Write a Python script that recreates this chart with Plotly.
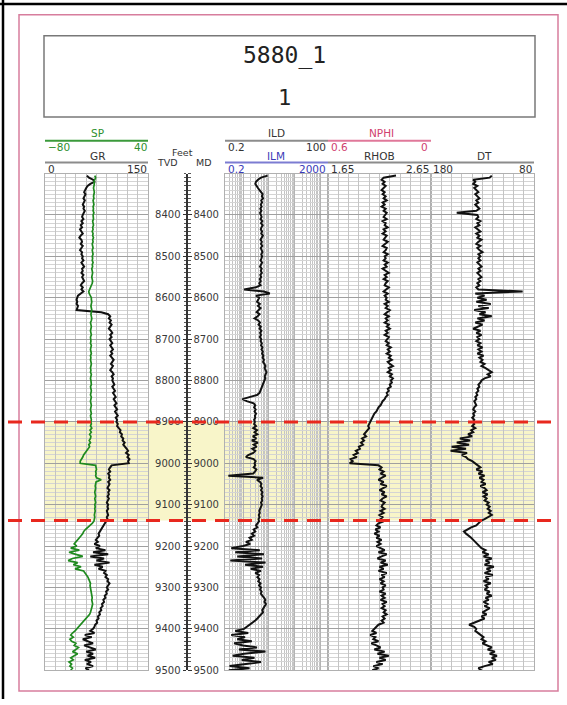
import numpy as np
import plotly.graph_objects as go

W, H = 567, 705

# ---------------- data ----------------
depth = list(range(8305, 9501, 5))  # sampling depths, ft (20 per 100-ft row)

gr = [61, 64, 70, 72, 66, 62, 60, 58, 57, 59, 57, 56, 58, 57, 55, 57, 56, 58, 56, 55,
      54, 56, 53, 55, 52, 54, 51, 53, 55, 52, 50, 53, 54, 52, 55, 53, 51, 54, 53, 55,
      54, 56, 53, 55, 57, 54, 55, 53, 56, 54, 55, 57, 54, 52, 55, 53, 56, 52, 48, 47,
      46, 47, 46, 48, 47, 46, 82, 92, 95, 93, 96, 94, 97, 95, 93, 96, 98, 95, 97, 94,
      96, 98, 95, 97, 99, 96, 98, 95, 97, 100, 98, 96, 99, 97, 95, 98, 100, 97, 99, 98,
      99, 101, 98, 100, 102, 99, 101, 103, 100, 102, 104, 101, 103, 105, 102, 104, 106, 103, 105, 104,
      106, 105, 108, 110, 109, 112, 111, 114, 113, 116, 114, 117, 119, 121, 118, 122, 120, 123, 121, 122,
      97, 95, 93, 95, 92, 94, 93, 95, 92, 94, 93, 91, 94, 92, 93, 91, 93, 92, 90, 92,
      91, 92, 90, 91, 92, 90, 91, 89, 87, 85, 84, 82, 80, 78, 79, 76, 74, 77, 72, 80,
      74, 88, 70, 92, 66, 86, 75, 94, 72, 84, 78, 88, 86, 90, 88, 92, 91, 94, 92, 90,
      92, 89, 90, 87, 88, 85, 86, 83, 84, 81, 82, 79, 80, 77, 78, 75, 76, 73, 72, 70,
      66, 72, 58, 68, 55, 64, 70, 57, 66, 74, 60, 70, 62, 73, 58, 67, 61, 70, 59, 64]

sp = [-22, -21, -22, -23, -22.5, -23, -23.5, -23, -22.5, -23, -23.5, -23, -24, -23.5, -23, -24, -23.5, -24, -23, -24,
      -24, -23.5, -24.5, -24, -23.5, -24.5, -24, -25, -24, -24.5, -23.5, -24.5, -24, -25, -24.5, -24, -25, -24.5, -24, -25,
      -24.5, -25, -24, -25, -24.5, -25.5, -25, -24.5, -25, -25.5, -25, -24.5, -25, -26, -27.5, -28.5, -29, -28.5, -27, -26,
      -26, -25.5, -26, -26.5, -26, -25.5, -26, -26.5, -26, -25.5, -26, -27, -26.5, -26, -26.5, -27, -26.5, -26, -27, -26.5,
      -26.5, -27, -26, -26.5, -27, -26.5, -26, -27, -26.5, -27, -26.5, -26, -26.5, -27, -26.5, -27, -26, -26.5, -27, -26.5,
      -26.5, -26, -27, -26.5, -26, -26.5, -27, -26, -26.5, -27, -26.5, -26, -26.5, -27, -26.5, -26, -27, -26.5, -26, -26.5,
      -26, -27, -25.5, -27.5, -26, -28, -26.5, -27, -28.5, -27, -29, -28, -30, -32, -33, -35, -36, -38, -39, -39,
      -21, -20.5, -20, -21, -20.5, -21, -20, -14.5, -20.5, -21, -21.5, -21, -21.5, -22, -21.5, -21, -22, -21.5, -21, -22,
      -21.5, -22, -21.5, -22, -22.5, -22, -22.5, -23, -25, -28, -31, -33, -35, -36, -38, -40, -42, -44, -46, -43,
      -50, -40, -52, -44, -36, -48, -53, -42, -47, -38, -45, -35, -33, -31, -30, -29, -28, -27, -27.5, -27,
      -27, -26.5, -26, -25.5, -25, -25.5, -25, -24.5, -25, -25.5, -26, -27, -28, -30, -32, -34, -36, -38, -40, -42,
      -45, -48, -50, -47, -51, -49, -44, -46, -41, -44, -48, -42, -46, -50, -47, -52, -49, -51, -48, -50]

ild = [9.0, 5.0, 3.8, 3.2, 3.0, 3.3, 3.8, 4.4, 5.2, 5.8, 5.4, 6.0, 5.1, 5.5, 4.9, 5.3, 4.7, 5.2, 4.6, 5.0,
       5.3, 4.8, 5.6, 5.0, 5.8, 5.2, 4.9, 5.5, 5.1, 5.9, 5.3, 4.8, 5.4, 5.0, 5.6, 4.9, 5.3, 5.7, 5.1, 5.5,
       5.2, 4.8, 5.5, 5.0, 4.6, 5.3, 4.9, 5.4, 4.7, 5.1, 4.5, 4.9, 4.3, 4.8, 3.2, 1.1, 6.5, 11.0, 3.2, 4.3,
       4.0, 3.5, 4.5, 3.8, 4.8, 4.1, 3.4, 4.4, 3.7, 2.8, 3.9, 4.6, 4.0, 4.9, 4.4, 5.2, 4.6, 5.0, 4.5, 5.1,
       4.8, 5.4, 5.0, 5.7, 5.2, 5.9, 5.5, 6.2, 5.8, 6.5, 6.0, 6.8, 7.4, 6.9, 7.8, 8.2, 7.5, 7.0, 7.3, 6.8,
       6.5, 6.0, 5.6, 5.2, 4.8, 4.4, 3.5, 1.6, 0.95, 1.4, 2.6, 3.0, 2.7, 3.1, 2.8, 3.2, 2.9, 3.0, 2.7, 2.9,
       2.7, 3.2, 2.5, 3.5, 2.8, 3.6, 2.4, 3.3, 2.2, 3.8, 2.6, 3.4, 2.3, 3.0, 2.5, 1.6, 1.3, 2.6, 3.1, 2.8,
       3.0, 2.6, 3.3, 2.9, 2.5, 0.27, 6.0, 3.5, 4.6, 5.2, 4.8, 5.5, 5.0, 5.7, 5.2, 5.8, 5.3, 5.6, 5.0, 5.4,
       5.0, 4.6, 4.3, 4.5, 4.1, 4.4, 4.0, 4.2, 3.8, 3.2, 3.6, 2.6, 3.0, 2.2, 2.7, 1.8, 2.2, 1.3, 1.9, 1.0,
       0.35, 4.5, 0.5, 6.5, 0.6, 5.5, 0.32, 7.5, 1.2, 6.0, 2.0, 5.0, 3.0, 4.2, 3.6, 4.4, 3.9, 4.8, 4.2, 5.0,
       4.6, 5.3, 4.9, 5.8, 6.6, 7.4, 6.8, 7.8, 6.9, 6.2, 5.6, 6.0, 5.2, 4.4, 3.6, 3.0, 2.3, 1.8, 1.4, 1.1,
       0.5, 1.6, 0.35, 1.2, 0.6, 2.2, 0.45, 1.0, 3.5, 0.7, 7.5, 1.1, 0.4, 2.8, 0.9, 5.0, 1.3, 0.3, 1.8, 0.28]

rhob = [2.31, 2.19, 2.17, 2.20, 2.18, 2.21, 2.19, 2.17, 2.20, 2.18, 2.21, 2.19, 2.22, 2.18, 2.20, 2.17, 2.21, 2.19, 2.22, 2.20,
        2.19, 2.22, 2.18, 2.21, 2.20, 2.23, 2.19, 2.21, 2.18, 2.22, 2.20, 2.19, 2.23, 2.20, 2.18, 2.22, 2.21, 2.19, 2.23, 2.20,
        2.21, 2.19, 2.23, 2.20, 2.22, 2.18, 2.21, 2.24, 2.20, 2.22, 2.19, 2.23, 2.21, 2.20, 2.24, 2.21, 2.19, 2.23, 2.20, 2.22,
        2.21, 2.24, 2.20, 2.23, 2.21, 2.25, 2.22, 2.20, 2.24, 2.21, 2.23, 2.20, 2.24, 2.22, 2.25, 2.21, 2.23, 2.20, 2.24, 2.22,
        2.21, 2.24, 2.22, 2.26, 2.23, 2.25, 2.22, 2.26, 2.24, 2.27, 2.23, 2.25, 2.28, 2.24, 2.26, 2.23, 2.27, 2.25, 2.28, 2.26,
        2.27, 2.25, 2.26, 2.23, 2.24, 2.22, 2.23, 2.21, 2.20, 2.18, 2.17, 2.16, 2.14, 2.13, 2.12, 2.10, 2.09, 2.08, 2.07, 2.06,
        2.05, 2.04, 2.05, 2.03, 2.02, 2.00, 2.02, 1.98, 2.00, 1.97, 1.99, 1.95, 1.96, 1.92, 1.94, 1.90, 1.93, 1.87, 1.89, 1.86,
        2.14, 2.17, 2.15, 2.19, 2.16, 2.21, 2.17, 2.14, 2.19, 2.16, 2.22, 2.18, 2.15, 2.20, 2.17, 2.22, 2.18, 2.16, 2.20, 2.18,
        2.17, 2.20, 2.16, 2.19, 2.15, 2.18, 2.16, 2.19, 2.14, 2.12, 2.16, 2.11, 2.14, 2.10, 2.15, 2.12, 2.17, 2.13, 2.16, 2.12,
        2.16, 2.20, 2.14, 2.22, 2.17, 2.13, 2.21, 2.16, 2.23, 2.15, 2.19, 2.14, 2.22, 2.17, 2.20, 2.15, 2.19, 2.16, 2.21, 2.18,
        2.19, 2.15, 2.21, 2.17, 2.20, 2.16, 2.22, 2.18, 2.20, 2.17, 2.21, 2.19, 2.22, 2.18, 2.20, 2.17, 2.19, 2.14, 2.12, 2.10,
        2.08, 2.12, 2.06, 2.11, 2.09, 2.14, 2.07, 2.12, 2.16, 2.10, 2.20, 2.13, 2.24, 2.15, 2.21, 2.12, 2.18, 2.09, 2.14, 2.08]

dt = [121, 123, 139, 137, 139, 135, 138, 136, 134, 137, 135, 133, 136, 134, 137, 135, 133, 136, 155, 135,
      134, 136, 132, 135, 133, 137, 134, 132, 136, 133, 135, 131, 134, 136, 132, 135, 133, 130, 134, 132,
      134, 132, 135, 133, 131, 134, 132, 135, 133, 131, 134, 132, 135, 133, 136, 134, 91, 137, 128, 135,
      126, 136, 122, 134, 124, 138, 127, 133, 121, 135, 128, 137, 130, 134, 139, 132, 136, 131, 135, 133,
      136, 132, 135, 130, 134, 131, 135, 129, 133, 130, 132, 128, 131, 127, 124, 121, 125, 122, 128, 131,
      132, 134, 133, 135, 134, 136, 135, 137, 136, 138, 137, 136, 138, 139, 137, 139, 138, 140, 138, 139,
      138, 140, 137, 141, 139, 144, 140, 152, 142, 155, 143, 160, 146, 161, 145, 150, 146, 144, 140, 137,
      135, 132, 136, 130, 134, 128, 133, 129, 131, 127, 132, 128, 126, 130, 125, 129, 126, 128, 124, 126,
      123, 125, 122, 124, 121, 124, 128, 132, 134, 136, 141, 145, 148, 146, 143, 141, 139, 137, 135, 133,
      131, 127, 130, 124, 129, 121, 127, 123, 128, 119, 126, 122, 128, 120, 127, 124, 129, 122, 127, 125,
      128, 123, 126, 121, 127, 124, 129, 125, 128, 123, 127, 130, 126, 131, 128, 133, 137, 143, 138, 136,
      137, 134, 132, 129, 131, 127, 130, 125, 121, 125, 118, 123, 116, 121, 117, 124, 120, 128, 134, 131]

depth_labels = list(range(8400, 9501, 100))
depth_range = [9500, 8300]
zone_top, zone_base = 8900, 9138

# ---------------- helpers ----------------
def fx(px):
    return px / W

def fy(py):
    return 1 - py / H

Y_DOM = [fy(676), fy(175)]
FONT = "DejaVu Sans"
GRID = "#c4c4c4"
GRID_MAJ = "#a0a0a0"
GRID_MIN = "#d4d4d4"
EDGE = "#b0b0b0"

fig = go.Figure()

curve = dict(color="#111111", width=2)
fig.add_trace(go.Scatter(x=gr, y=depth, xaxis="x", yaxis="y", mode="lines", line=curve, hoverinfo="skip"))
fig.add_trace(go.Scatter(x=sp, y=depth, xaxis="x2", yaxis="y", mode="lines",
                         line=dict(color="#1f8a1f", width=1.7), hoverinfo="skip"))
fig.add_trace(go.Scatter(x=ild, y=depth, xaxis="x3", yaxis="y3", mode="lines", line=curve, hoverinfo="skip"))
fig.add_trace(go.Scatter(x=rhob, y=depth, xaxis="x4", yaxis="y4", mode="lines", line=curve, hoverinfo="skip"))
fig.add_trace(go.Scatter(x=dt, y=depth, xaxis="x5", yaxis="y5", mode="lines", line=curve, hoverinfo="skip"))
# depth track (invisible carriers for the two depth scales)
fig.add_trace(go.Scatter(x=[0.5, 0.5], y=depth_range, xaxis="x6", yaxis="y6", mode="lines",
                         line=dict(width=0, color="rgba(0,0,0,0)"), hoverinfo="skip"))
fig.add_trace(go.Scatter(x=[0.5, 0.5], y=depth_range, xaxis="x6", yaxis="y7", mode="lines",
                         line=dict(width=0, color="rgba(0,0,0,0)"), hoverinfo="skip"))


def track_y(anchor):
    return dict(domain=Y_DOM, range=depth_range, anchor=anchor, showticklabels=False, ticks="",
                tickmode="linear", tick0=8300, dtick=100, showgrid=True, gridcolor=GRID_MAJ, gridwidth=1.3,
                minor=dict(tickmode="linear", tick0=8300, dtick=10, showgrid=True, gridcolor=GRID_MIN,
                           gridwidth=1, ticks=""),
                zeroline=False, showline=True, mirror=True, linecolor=EDGE, linewidth=1)


def track_x(dom, anchor, **kw):
    d = dict(domain=[fx(dom[0]), fx(dom[1])], anchor=anchor, showticklabels=False, ticks="",
             showgrid=True, gridcolor=GRID, gridwidth=1, zeroline=False, showline=True, mirror=True,
             linecolor=EDGE, linewidth=1)
    d.update(kw)
    return d


log_major = [1, 10, 100, 1000]
log_minor = [m * 10.0 ** e for e in range(-1, 4) for m in range(2, 10) if 0.2 <= m * 10.0 ** e <= 2000]

depth_tickfont = dict(family=FONT, size=10, color="#3a3a3a")
depth_axis = dict(domain=Y_DOM, range=depth_range, showgrid=False, zeroline=False, showline=True,
                  linecolor="#333333", linewidth=1, tickmode="array", tickvals=depth_labels,
                  ticks="outside", ticklen=3.5, tickcolor="#333333", tickwidth=1,
                  tickfont=depth_tickfont,
                  minor=dict(tickmode="linear", tick0=8300, dtick=10, ticks="outside", ticklen=2.5,
                             tickcolor="#555555", showgrid=False))

fig.update_layout(
    width=W, height=H, margin=dict(l=0, r=0, t=0, b=0),
    paper_bgcolor="white", plot_bgcolor="rgba(0,0,0,0)", showlegend=False,
    xaxis=track_x((45, 148), "y", range=[0, 150], tickmode="linear", tick0=0, dtick=15),
    xaxis2=dict(overlaying="x", anchor="y", range=[-80, 40], visible=False),
    yaxis=track_y("x"),
    xaxis3=track_x((225, 328), "y3", type="log", range=[np.log10(0.2), np.log10(2000)],
                   tickmode="array", tickvals=log_major, gridcolor="#b4b4b4",
                   minor=dict(tickmode="array", tickvals=log_minor, showgrid=True,
                              gridcolor=GRID, gridwidth=1, ticks="")),
    yaxis3=dict(track_y("x3"), matches="y"),
    xaxis4=track_x((328, 431), "y4", range=[1.65, 2.65], tickmode="linear", tick0=1.65, dtick=0.1),
    yaxis4=dict(track_y("x4"), matches="y"),
    xaxis5=track_x((431, 534), "y5", range=[180, 80], tickmode="linear", tick0=80, dtick=10),
    yaxis5=dict(track_y("x5"), matches="y"),
    xaxis6=dict(domain=[fx(187), fx(225)], anchor="y6", range=[0, 1], visible=False),
    yaxis6=dict(depth_axis, anchor="x6", side="left"),
    yaxis7=dict(depth_axis, overlaying="y6", anchor="free", position=fx(187), side="right"),
)

shapes = []
# outer black frame edges (top, left)
shapes.append(dict(type="line", xref="paper", yref="paper", x0=0, x1=1, y0=fy(4), y1=fy(4),
                   line=dict(color="black", width=2.5)))
shapes.append(dict(type="line", xref="paper", yref="paper", x0=fx(3), x1=fx(3), y0=0, y1=1,
                   line=dict(color="black", width=2.5)))
# pink page border
shapes.append(dict(type="rect", xref="paper", yref="paper", x0=fx(19), x1=fx(558), y0=fy(697), y1=fy(15),
                   line=dict(color="#d77d9d", width=1.5)))
# title box
shapes.append(dict(type="rect", xref="paper", yref="paper", x0=fx(44), x1=fx(535), y0=fy(118), y1=fy(36),
                   line=dict(color="#787878", width=1.5)))
# zone fill
shapes.append(dict(type="rect", xref="paper", yref="y", x0=fx(45), x1=fx(534), y0=zone_top, y1=zone_base,
                   fillcolor="#f8f5c9", line=dict(width=0), layer="below"))


def hline(x0, x1, py, color, width=2):
    shapes.append(dict(type="line", xref="paper", yref="paper", x0=fx(x0), x1=fx(x1), y0=fy(py), y1=fy(py),
                       line=dict(color=color, width=width)))


GREY_HDR = "#8c8c8c"
hline(45, 148, 142, "#3b9a3b")      # SP
hline(45, 148, 164, GREY_HDR)       # GR
hline(225, 328, 142, GREY_HDR)      # ILD
hline(328, 431, 142, "#e0789a")     # NPHI
hline(225, 328, 164, "#7c7cd2")     # ILM
hline(328, 431, 164, GREY_HDR)      # RHOB
hline(431, 534, 164, GREY_HDR)      # DT

# zone boundary dashed lines
for d in (zone_top, zone_base):
    shapes.append(dict(type="line", xref="paper", yref="y", x0=fx(8), x1=fx(560), y0=d, y1=d,
                       line=dict(color="#e8281e", width=3, dash="14px,9px"), layer="above"))

fig.update_layout(shapes=shapes)

annotations = []


def txt(text, px, py, color="#333333", size=10.5, xanchor="center", family=FONT):
    annotations.append(dict(text=text, x=fx(px), y=fy(py), xref="paper", yref="paper", showarrow=False,
                            xanchor=xanchor, yanchor="middle", font=dict(family=family, size=size, color=color)))


MONO = "DejaVu Sans Mono"
txt("5880_1", 284, 56, color="#222222", size=23, family=MONO)
txt("1", 284, 98, color="#222222", size=22, family=MONO)

GREEN, BLUE, PINK = "#2e8f2e", "#3a3ab8", "#d0406e"
# GR track header
txt("SP", 97, 134, GREEN)
txt("−80", 46, 148, GREEN, xanchor="left")
txt("40", 149, 148, GREEN, xanchor="right")
txt("GR", 97, 157)
txt("0", 46, 170, xanchor="left")
txt("150", 149, 170, xanchor="right")
# depth header
txt("Feet", 182, 154, size=9.5)
txt("TVD", 167, 164, size=9.5)
txt("MD", 204, 164, size=9.5)
# resistivity header
txt("ILD", 276, 134)
txt("0.2", 226, 148, xanchor="left")
txt("100", 328, 148, xanchor="right")
txt("ILM", 276, 157, BLUE)
txt("0.2", 226, 170, BLUE, xanchor="left")
txt("2000", 328, 170, BLUE, xanchor="right")
# NPHI / RHOB header
txt("NPHI", 381, 134, PINK)
txt("0.6", 329, 148, PINK, xanchor="left")
txt("0", 430, 148, PINK, xanchor="right")
txt("RHOB", 379, 157)
txt("1.65", 329, 170, xanchor="left")
txt("2.65", 431, 170, xanchor="right")
# DT header
txt("DT", 484, 157)
txt("180", 431, 170, xanchor="left")
txt("80", 534, 170, xanchor="right")

fig.update_layout(annotations=annotations)

fig.write_html("out.html")
